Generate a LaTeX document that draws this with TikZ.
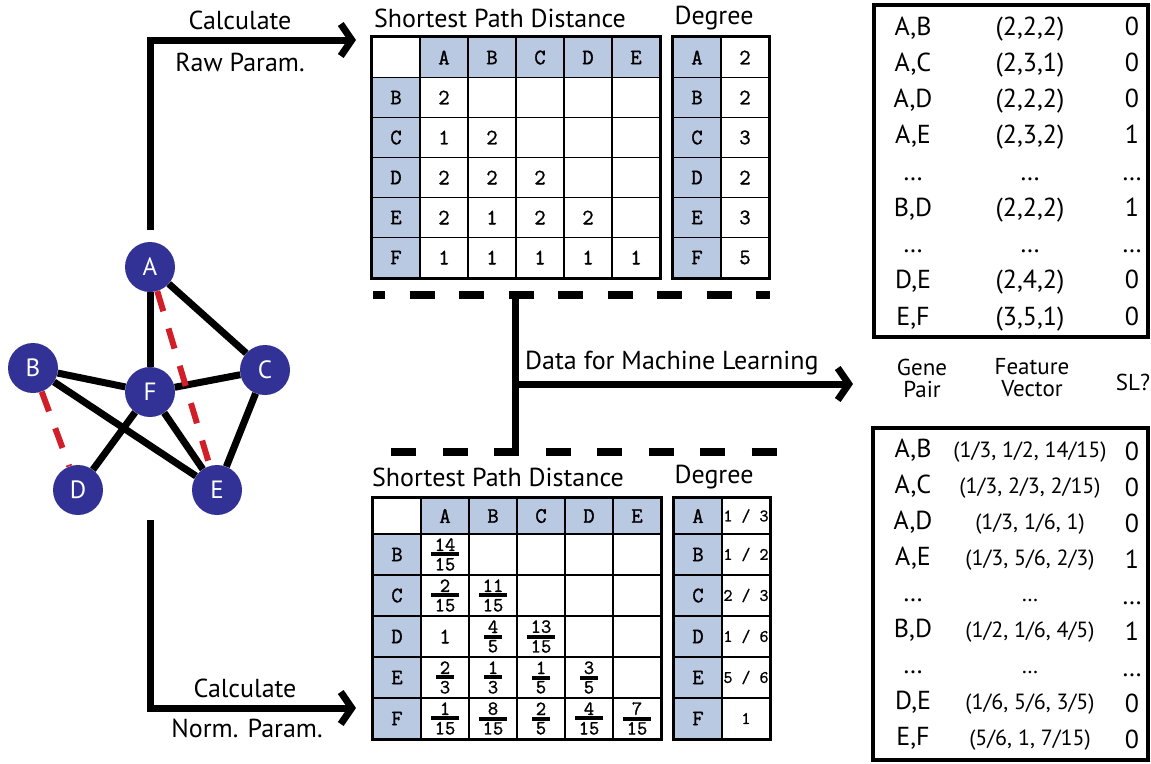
\documentclass[tikz,border=0pt]{standalone}
\usepackage{fontspec}
\setmainfont{PT Sans}
\newfontfamily\cour{Latin Modern Mono}[FakeBold=1.3]
\usetikzlibrary{arrows.meta}
\definecolor{navy}{RGB}{50,50,150}
\definecolor{hdr}{RGB}{185,201,226}
\definecolor{sred}{RGB}{210,30,40}
\newcommand\fr[2]{\fontsize{20}{20}\selectfont\vbox{\baselineskip=0pt\lineskip=0pt\lineskiplimit=0pt\halign{\hfil\kern3.5pt##\kern3.5pt\hfil\cr#1\cr\noalign{\kern1.5pt\hrule height 4pt\kern1.5pt}#2\cr}}}
\begin{document}
\begin{tikzpicture}[x=1pt,y=-1pt,
  lbl/.style={font=\fontsize{26}{28}\selectfont, inner sep=0pt},
  rtxt/.style={font=\fontsize{26}{26}\selectfont, inner sep=0pt, anchor=base},
  vtxt/.style={font=\fontsize{22}{22}\selectfont, inner sep=0pt, anchor=base},
  hd/.style={font=\fontsize{23}{22}\selectfont, inner sep=0pt, align=center},
  gnode/.style={circle, fill=navy, text=white, minimum size=50pt, inner sep=0pt, font=\fontsize{25}{25}\selectfont},
  gedge/.style={line width=7pt},
  sledge/.style={line width=6pt, sred, dash pattern=on 21pt off 18pt},
  flow/.style={line width=7pt, line join=miter, -{Straight Barb[length=11pt,width=32pt]}},
  cellst/.style={draw, line width=1.8pt, minimum width=48pt, minimum height=40pt, inner sep=0pt, font=\fontsize{22}{22}\selectfont\cour},
  hcell/.style={cellst, fill=hdr},
  bcell/.style={cellst, minimum height=41pt},
  bhcell/.style={bcell, fill=hdr},
  dgv/.style={font=\fontsize{17.5}{17.5}\selectfont\cour},
  box/.style={draw, line width=4pt, inner sep=0pt}
]
\useasboundingbox (0,0) rectangle (1151,763);

% ---------- graph ----------
\node[gnode] (A) at (150,267) {A};
\node[gnode] (B) at (33,368) {B};
\node[gnode] (C) at (265,370) {C};
\node[gnode] (F) at (150,392) {F};
\node[gnode] (D) at (78,490) {D};
\node[gnode] (E) at (217,490) {E};
\draw[gedge] (A) -- (F);
\draw[gedge] (A) -- (C);
\draw[gedge] (B) -- (F);
\draw[gedge] (B) -- (E);
\draw[gedge] (F) -- (C);
\draw[gedge] (F) -- (D);
\draw[gedge] (F) -- (E);
\draw[gedge] (C) -- (E);
\draw[sledge] (A) -- (E);
\draw[sledge] (B) -- (D);

% ---------- left connectors ----------
\coordinate (s1) at (150,230);
\coordinate (e1) at (356,40);
\draw[flow] (s1) |- (e1);
\node[lbl] (calc1) at (240,20) {Calculate};
\node[lbl] (raw) at (240,62) {Raw Param.};
\coordinate (s2) at (150,520);
\coordinate (e2) at (356,708);
\draw[flow] (s2) |- (e2);
\node[lbl] (calc2) at (245,688) {Calculate};
\node[lbl] (norm) at (247,728) {Norm. Param.};

% ---------- top tables ----------
\node[lbl] (tt1) at (500,18) {Shortest Path Distance};
\node[lbl] (tdeg1) at (714,18) {Degree};
\node[cellst] (t1-0-0) at (396,57.5) {};
\foreach \l [count=\c] in {A,B,C,D,E}
  \node[hcell] (t1-0-\c) at ({372+48*\c+24},57.5) {\l};
\foreach \l [count=\r] in {B,C,D,E,F}
  \node[hcell] (t1-\r-0) at (396,{57.5+40*\r}) {\l};
\foreach \v [count=\c] in {2,{},{},{},{}}
  \node[cellst] (t1-1-\c) at ({372+48*\c+24},97.5) {\v};
\foreach \v [count=\c] in {1,2,{},{},{}}
  \node[cellst] (t1-2-\c) at ({372+48*\c+24},137.5) {\v};
\foreach \v [count=\c] in {2,2,2,{},{}}
  \node[cellst] (t1-3-\c) at ({372+48*\c+24},177.5) {\v};
\foreach \v [count=\c] in {2,1,2,2,{}}
  \node[cellst] (t1-4-\c) at ({372+48*\c+24},217.5) {\v};
\foreach \v [count=\c] in {1,1,1,1,1}
  \node[cellst] (t1-5-\c) at ({372+48*\c+24},257.5) {\v};
\draw[line width=3pt] (t1-0-0.north west) rectangle (t1-5-5.south east);
\foreach \l/\v [count=\r from 0] in {A/2,B/2,C/3,D/2,E/3,F/5}{
  \node[hcell] (dg1-\r-0) at (697,{57.5+40*\r}) {\l};
  \node[cellst] (dg1-\r-1) at (745,{57.5+40*\r}) {\v};
}
\draw[line width=3pt] (dg1-0-0.north west) rectangle (dg1-5-1.south east);

% ---------- dashed separators and ML arrow ----------
\coordinate (d1a) at (373,295);
\coordinate (d1b) at (770,295);
\draw[line width=8.5pt, dash pattern=on 25pt off 24.5pt, dash phase=13pt] (d1a) -- (d1b);
\coordinate (d2a) at (391,452);
\coordinate (d2b) at (777,452);
\draw[line width=8.5pt, dash pattern=on 25pt off 26.5pt] (d2a) -- (d2b);
\coordinate (v1) at (515,293);
\coordinate (v2) at (515,454);
\draw[line width=7pt] (v1) -- (v2);
\coordinate (h1) at (515,384);
\coordinate (h2) at (853,384);
\draw[flow] (h1) -- (h2);
\node[lbl, anchor=west] (ml) at (525,363) {Data for Machine Learning};

% ---------- bottom tables ----------
\node[lbl] (tt2) at (498,477) {Shortest Path Distance};
\node[lbl] (tdeg2) at (714,477) {Degree};
\node[cellst, minimum height=36pt] (t2-0-0) at (397,516) {};
\foreach \l [count=\c] in {A,B,C,D,E}
  \node[hcell, minimum height=36pt] (t2-0-\c) at ({373+48*\c+24},516) {\l};
\foreach \l [count=\r] in {B,C,D,E,F}
  \node[bhcell] (t2-\r-0) at (397,{513.5+41*\r}) {\l};
\foreach \v [count=\c] in {{\fr{14}{15}},{},{},{},{}}
  \node[bcell] (t2-1-\c) at ({373+48*\c+24},554.5) {\v};
\foreach \v [count=\c] in {{\fr{2}{15}},{\fr{11}{15}},{},{},{}}
  \node[bcell] (t2-2-\c) at ({373+48*\c+24},595.5) {\v};
\foreach \v [count=\c] in {1,{\fr{4}{5}},{\fr{13}{15}},{},{}}
  \node[bcell] (t2-3-\c) at ({373+48*\c+24},636.5) {\v};
\foreach \v [count=\c] in {{\fr{2}{3}},{\fr{1}{3}},{\fr{1}{5}},{\fr{3}{5}},{}}
  \node[bcell] (t2-4-\c) at ({373+48*\c+24},677.5) {\v};
\foreach \v [count=\c] in {{\fr{1}{15}},{\fr{8}{15}},{\fr{2}{5}},{\fr{4}{15}},{\fr{7}{15}}}
  \node[bcell] (t2-5-\c) at ({373+48*\c+24},718.5) {\v};
\draw[line width=3pt] (t2-0-0.north west) rectangle (t2-5-5.south east);
\node[hcell, minimum height=36pt] (dg2-0-0) at (698,516) {A};
\node[cellst, minimum height=36pt, dgv] (dg2-0-1) at (746,516) {1 / 3};
\foreach \l/\v [count=\r] in {B/{1 / 2},C/{2 / 3},D/{1 / 6},E/{5 / 6},F/{1}}{
  \node[bhcell] (dg2-\r-0) at (698,{513.5+41*\r}) {\l};
  \node[bcell, dgv] (dg2-\r-1) at (746,{513.5+41*\r}) {\v};
}
\draw[line width=3pt] (dg2-0-0.north west) rectangle (dg2-5-1.south east);

% ---------- right: raw features ----------
\node[box, minimum width=274pt, minimum height=332pt] (box1) at (1011,171) {};
\foreach \p/\v/\s [count=\i from 0] in {{A,B}/{(2,2,2)}/0, {A,C}/{(2,3,1)}/0, {A,D}/{(2,2,2)}/0, {A,E}/{(2,3,2)}/1, …/…/…, {B,D}/{(2,2,2)}/1, …/…/…, {D,E}/{(2,4,2)}/0, {E,F}/{(3,5,1)}/0}{
  \node[rtxt] (rp\i) at (913,{35+36.25*\i}) {\p};
  \node[rtxt] (rv\i) at (1030,{35+36.25*\i}) {\v};
  \node[rtxt] (rs\i) at (1132,{35+36.25*\i}) {\s};
}
\node[hd] (hgene) at (922,378) {Gene\\Pair};
\node[hd] (hfeat) at (1032,378) {Feature\\Vector};
\node[hd] (hsl) at (1133,382) {SL?};

% ---------- right: normalised features ----------
\node[box, minimum width=275pt, minimum height=332pt] (box2) at (1010.5,594) {};
\foreach \p/\v/\s [count=\i from 0] in {{A,B}/{(1/3, 1/2, 14/15)}/0, {A,C}/{(1/3, 2/3, 2/15)}/0, {A,D}/{(1/3, 1/6, 1)}/0, {A,E}/{(1/3, 5/6, 2/3)}/1, …/…/…, {B,D}/{(1/2, 1/6, 4/5)}/1, …/…/…, {D,E}/{(1/6, 5/6, 3/5)}/0, {E,F}/{(5/6, 1, 7/15)}/0}{
  \node[rtxt] (np\i) at (913,{457+36*\i}) {\p};
  \node[vtxt] (nv\i) at (1030,{457+36*\i}) {\v};
  \node[rtxt] (ns\i) at (1132,{460+36*\i}) {\s};
}
\end{tikzpicture}
\end{document}
